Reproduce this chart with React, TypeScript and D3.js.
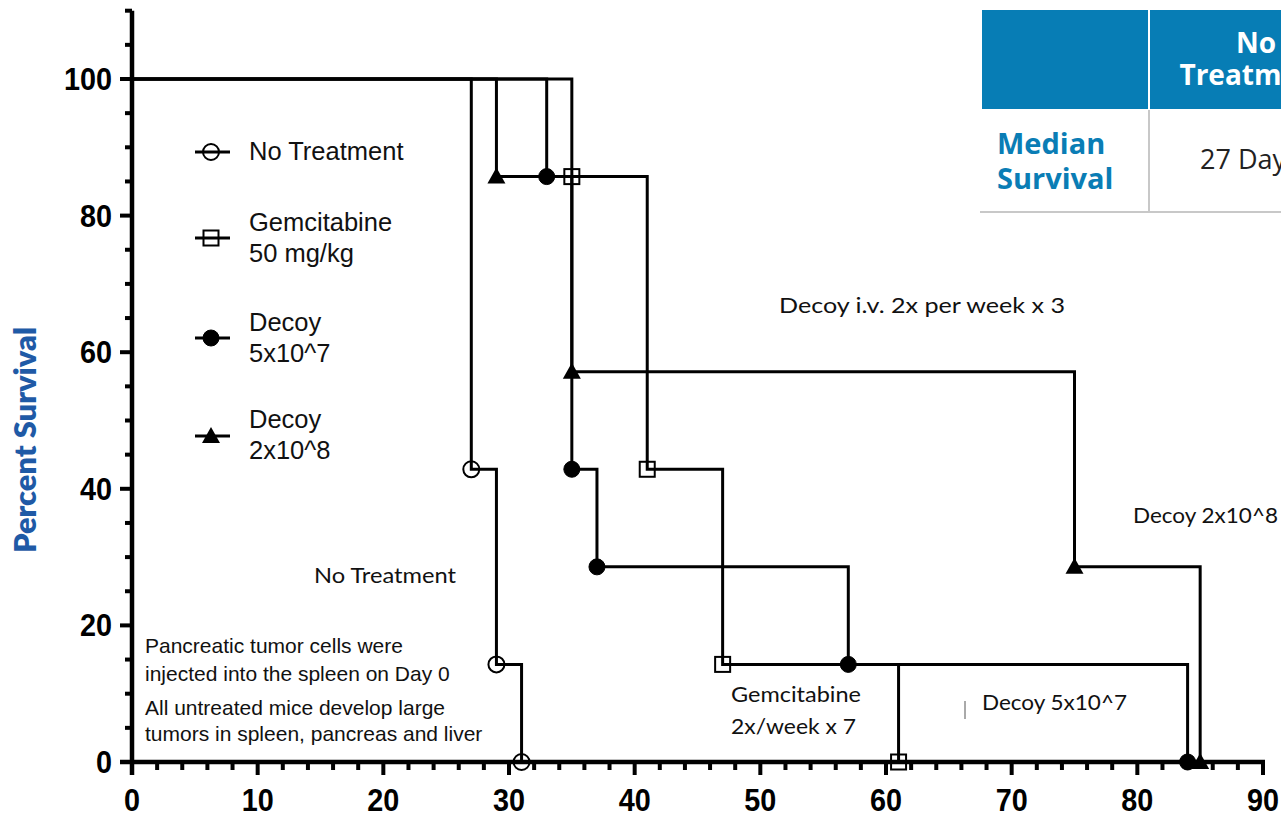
import React from "react";
import * as d3 from "d3";

const seriesNames = ["No Treatment", "Gemcitabine 50 mg/kg", "Decoy 5x10^7", "Decoy 2x10^8"];
const noTreatDays = [0, 27, 29, 31];
const noTreatSurv = [100, 42.86, 14.29, 0];
const gemDays = [0, 35, 41, 47, 61];
const gemSurv = [100, 85.71, 42.86, 14.29, 0];
const decoyLowDays = [0, 33, 35, 37, 57, 84];
const decoyLowSurv = [100, 85.71, 42.86, 28.57, 14.29, 0];
const decoyHighDays = [0, 29, 35, 75, 85];
const decoyHighSurv = [100, 85.71, 57.14, 28.57, 0];
const xTicks = [0, 10, 20, 30, 40, 50, 60, 70, 80, 90];
const yTicks = [0, 20, 40, 60, 80, 100];

type Marker = "openCircle" | "openSquare" | "filledCircle" | "triangle";

const series: { name: string; days: number[]; surv: number[]; marker: Marker }[] = [
  { name: seriesNames[0], days: noTreatDays, surv: noTreatSurv, marker: "openCircle" },
  { name: seriesNames[1], days: gemDays, surv: gemSurv, marker: "openSquare" },
  { name: seriesNames[2], days: decoyLowDays, surv: decoyLowSurv, marker: "filledCircle" },
  { name: seriesNames[3], days: decoyHighDays, surv: decoyHighSurv, marker: "triangle" },
];

function MarkerShape({ type, x, y }: { type: Marker; x: number; y: number }) {
  if (type === "openCircle") return <circle cx={x} cy={y} r={8} fill="none" stroke="#000" strokeWidth={2} />;
  if (type === "filledCircle") return <circle cx={x} cy={y} r={8} fill="#000" stroke="#000" strokeWidth={1} />;
  if (type === "openSquare")
    return <rect x={x - 7.5} y={y - 7.5} width={15} height={15} fill="none" stroke="#000" strokeWidth={2} />;
  return <path d={`M${x},${y - 9}L${x + 9},${y + 7}L${x - 9},${y + 7}Z`} fill="#000" />;
}

export default function App() {
  const x = d3.scaleLinear().domain([0, 90]).range([132, 1263]);
  const y = d3.scaleLinear().domain([0, 110]).range([762, 10.7]);
  const minorY = d3.range(0, 111, 5).filter((v) => v % 20 !== 0);
  const minorX = d3.range(0, 91, 2).filter((v) => v % 10 !== 0);
  const line = d3
    .line<[number, number]>()
    .x((d) => x(d[0]))
    .y((d) => y(d[1]))
    .curve(d3.curveStepAfter);

  const legendRows = [
    { marker: "openCircle" as Marker, my: 152, lines: ["No Treatment"], base: [160] },
    { marker: "openSquare" as Marker, my: 238, lines: ["Gemcitabine", "50 mg/kg"], base: [231, 262] },
    { marker: "filledCircle" as Marker, my: 338, lines: ["Decoy", "5x10^7"], base: [331, 362] },
    { marker: "triangle" as Marker, my: 436, lines: ["Decoy", "2x10^8"], base: [428, 459] },
  ];

  const arial = "Arial, 'Liberation Sans', sans-serif";
  const calibri = "Lato, 'Open Sans', sans-serif";
  const tableFont = "'Open Sans', sans-serif";

  return (
    <svg
      width={1281}
      height={816}
      style={{ position: "absolute", left: 0, top: 0, background: "#fff" }}
      fontFamily={arial}
    >
      {/* table */}
      <rect x={982} y={10} width={300} height={99} fill="#077DB5" />
      <line x1={1149} x2={1149} y1={10} y2={109} stroke="#fff" strokeWidth={2} />
      <line x1={1149} x2={1149} y1={110} y2={212} stroke="#c8c8c8" strokeWidth={2} />
      <line x1={980} x2={1281} y1={212} y2={212} stroke="#c8c8c8" strokeWidth={2} />
      <g fontFamily={tableFont} fontWeight={700} fontSize={28} fill="#fff" textAnchor="middle">
        <text x={1256} y={53}>No</text>
        <text x={1254} y={85}>Treatment</text>
      </g>
      <g fontFamily={tableFont} fontWeight={700} fontSize={29} fill="#0A7DB5">
        <text x={997} y={154}>Median</text>
        <text x={997} y={189}>Survival</text>
      </g>
      <text x={1200} y={169} fontFamily={tableFont} fontSize={27} fill="#222">27 Days</text>

      {/* y axis label */}
      <text
        transform="translate(36,440) rotate(-90)"
        textAnchor="middle"
        fontFamily={calibri}
        fontWeight={800}
        fontSize={30}
        fill="#1F5AA6"
        textLength={226}
        lengthAdjust="spacingAndGlyphs"
      >
        Percent Survival
      </text>

      {/* axes */}
      <line x1={x(0)} x2={x(0)} y1={y(110)} y2={y(0) + 13} stroke="#000" strokeWidth={4.5} />
      <line x1={x(0) - 12} x2={x(90) + 2} y1={y(0)} y2={y(0)} stroke="#000" strokeWidth={4.5} />
      {yTicks.map((t) => (
        <g key={"yt" + t}>
          <line x1={x(0) - 12} x2={x(0)} y1={y(t)} y2={y(t)} stroke="#000" strokeWidth={4} />
          <text
            transform={`translate(112,${y(t) + 11}) scale(0.9,1)`}
            textAnchor="end"
            fontWeight={700}
            fontSize={32}
          >
            {t}
          </text>
        </g>
      ))}
      {minorY.map((t) => (
        <line key={"ym" + t} x1={x(0) - 7} x2={x(0)} y1={y(t)} y2={y(t)} stroke="#000" strokeWidth={4} />
      ))}
      {xTicks.map((t) => (
        <g key={"xt" + t}>
          <line x1={x(t)} x2={x(t)} y1={y(0)} y2={y(0) + 13} stroke="#000" strokeWidth={4} />
          <text
            transform={`translate(${x(t)},${811}) scale(0.9,1)`}
            textAnchor="middle"
            fontWeight={700}
            fontSize={32}
          >
            {t}
          </text>
        </g>
      ))}
      {minorX.map((t) => (
        <line key={"xm" + t} x1={x(t)} x2={x(t)} y1={y(0)} y2={y(0) + 8} stroke="#000" strokeWidth={4} />
      ))}

      {/* survival curves */}
      {series.map((s) => (
        <path
          key={"p" + s.name}
          d={line(s.days.map((d, i) => [d, s.surv[i]] as [number, number])) || ""}
          fill="none"
          stroke="#000"
          strokeWidth={3}
        />
      ))}
      {series.map((s) =>
        s.days.slice(1).map((d, i) => (
          <MarkerShape key={s.name + d} type={s.marker} x={x(d)} y={y(s.surv[i + 1])} />
        ))
      )}

      {/* legend */}
      {legendRows.map((r, i) => (
        <g key={"lg" + i}>
          <line x1={195} x2={230} y1={r.my} y2={r.my} stroke="#000" strokeWidth={3} />
          <MarkerShape type={r.marker} x={211} y={r.my} />
          {r.lines.map((l, j) => (
            <text key={j} x={249} y={r.base[j]} fontSize={25.5} fill="#111">
              {l}
            </text>
          ))}
        </g>
      ))}

      {/* notes */}
      <g fontSize={21} fill="#111">
        <text x={145} y={653}>Pancreatic tumor cells were</text>
        <text x={145} y={681}>injected into the spleen on Day 0</text>
        <text x={145} y={715}>All untreated mice develop large</text>
        <text x={145} y={741}>tumors in spleen, pancreas and liver</text>
      </g>

      <g fontFamily={calibri} fontSize={21} fill="#111">
        <text x={314} y={583} textLength={142} lengthAdjust="spacingAndGlyphs">No Treatment</text>
        <text x={779} y={313} textLength={286} lengthAdjust="spacingAndGlyphs">Decoy i.v. 2x per week x 3</text>
        <text x={1133} y={523} textLength={145} lengthAdjust="spacingAndGlyphs">Decoy 2x10^8</text>
        <text x={731} y={702} textLength={130} lengthAdjust="spacingAndGlyphs">Gemcitabine</text>
        <text x={731} y={734} textLength={125} lengthAdjust="spacingAndGlyphs">2x/week x 7</text>
        <text x={982} y={710} textLength={145} lengthAdjust="spacingAndGlyphs">Decoy 5x10^7</text>
      </g>
      <line x1={965} x2={965} y1={701} y2={719} stroke="#555" strokeWidth={1} />
    </svg>
  );
}
